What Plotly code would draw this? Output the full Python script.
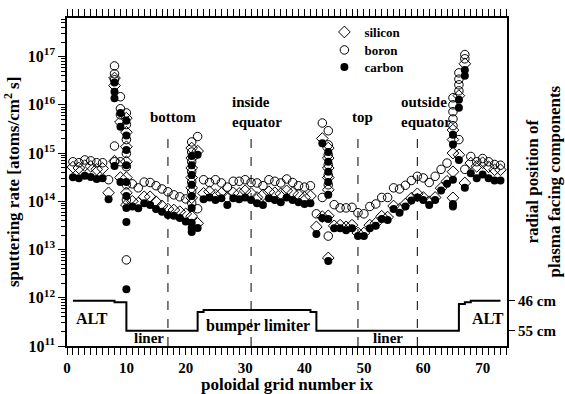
import plotly.graph_objects as go

# ---------------- data ----------------
boron_ix = [1, 2, 3, 4, 5, 6, 7,
            8, 8, 8, 8, 8,
            9, 9, 9, 9,
            10, 10, 10, 10, 10, 10, 10, 10,
            11, 12, 13, 14, 15, 16, 17, 18, 19, 20,
            21, 21, 21, 21, 21, 21, 21,
            22, 22,
            23, 24, 25, 26, 27, 28, 29, 30, 31, 32, 33, 34, 35, 36, 37, 38, 39, 40, 41,
            42,
            43, 43,
            44, 44, 44, 44, 44, 44, 44,
            45, 46, 47, 48, 49, 50, 51, 52, 53, 54, 55, 56, 57, 58, 59, 60, 61, 62, 63, 64,
            65, 65, 65, 65, 65,
            66, 66, 66, 66, 66,
            67, 67, 67,
            68, 69, 70, 71, 72, 73]
boron_rate = [6.6e14, 6.3e14, 7.2e14, 6.9e14, 6.3e14, 6.3e14, 2.8e14,
              6.4e16, 4.4e16, 3.3e16, 1.4e15, 6.6e14,
              1.47e16, 8.3e15, 6.2e15, 6.6e14,
              6.8e15, 3.9e15, 1.9e15, 9.8e14, 5.2e14, 2.2e14, 1.07e14, 6.1e12,
              2.3e14, 1.9e14, 2.5e14, 2.45e14, 2.1e14, 1.8e14, 1.57e14, 1.36e14, 1.24e14, 1.12e14,
              9.2e13, 1.7e15, 1.05e15, 6.6e14, 4.1e14, 2.5e14, 1.57e14,
              2.2e15, 7.0e13,
              2.8e14, 2.45e14, 2.8e14, 2.4e14, 1.97e14, 2.6e14, 2.6e14, 2.8e14, 2.45e14, 2.4e14,
              2.1e14, 2.8e14, 2.6e14, 2.4e14, 2.9e14, 2.45e14, 2.1e14, 1.97e14, 2.1e14,
              5.5e13,
              4.2e15, 1.2e14,
              2.9e15, 1.48e15, 9.2e14, 5.7e14, 3.5e14, 2.2e14, 1.9e13,
              8.5e13, 7.3e13, 7.3e13, 7.5e13, 5.8e13, 5.5e13, 7.8e13, 8.8e13, 1.2e14, 1.2e14,
              1.9e14, 1.8e14, 2.15e14, 2.7e14, 3.3e14, 3.05e14, 2.45e14, 3.3e14, 4.6e14, 6.2e14,
              1.4e16, 1.0e16, 7.2e15, 5.1e15, 3.7e15,
              4.6e16, 3.4e16, 2.6e16, 1.95e16, 1.9e15,
              1.1e17, 9.0e16, 4.6e14,
              8.5e14, 6.6e14, 7.7e14, 6.6e14, 5.8e14, 5.6e14]

silicon_ix = [1, 2, 3, 4, 5, 6, 7,
              8, 8, 8,
              9, 9,
              10, 10, 10, 10, 10, 10, 10,
              11, 12, 13, 14, 15, 16, 17, 18, 19, 20,
              21, 21, 21, 21, 21, 21, 21,
              22, 22,
              23, 24, 25, 26, 27, 28, 29, 30, 31, 32, 33, 34, 35, 36, 37, 38, 39, 40, 41,
              42,
              43, 43,
              44, 44, 44, 44, 44, 44, 44,
              45, 46, 47, 48, 49, 50, 51, 52, 53, 54, 55, 56, 57, 58, 59, 60, 61, 62, 63, 64,
              65, 65, 65, 65, 65,
              66, 66,
              67, 67,
              68, 69, 70, 71, 72, 73]
silicon_rate = [5.1e14, 4.9e14, 5.5e14, 5.3e14, 4.6e14, 4.8e14, 1.5e14,
                3.6e16, 2.5e16, 6.8e14,
                4.4e15, 3.1e14,
                5.3e15, 2.7e15, 1.35e15, 6.6e14, 3.1e14, 1.5e14, 8.4e13,
                1.0e14, 9.2e13, 1.24e14, 1.24e14, 9.8e13, 8.0e13, 6.9e13, 6.6e13, 6.1e13, 5.5e13,
                4.9e13, 1.27e15, 7.9e14, 4.9e14, 3.1e14, 1.9e14, 1.18e14,
                1.1e15, 3.5e13,
                1.46e14, 1.58e14, 1.36e14, 1.46e14, 1.2e14, 1.5e14, 1.46e14, 1.65e14, 1.46e14, 1.2e14,
                1.36e14, 1.58e14, 1.5e14, 1.43e14, 1.65e14, 1.5e14, 1.36e14, 1.2e14, 1.29e14,
                2.95e13,
                2.0e15, 4.8e13,
                1.27e15, 7.9e14, 4.9e14, 3.1e14, 1.73e14, 5.0e13, 6.7e12,
                3.1e13, 3.2e13, 2.95e13, 3.2e13, 2.2e13, 2.2e13, 3.2e13, 3.5e13, 4.9e13, 4.7e13,
                8.0e13, 6.9e13, 8.8e13, 1.16e14, 1.43e14, 1.2e14, 9.8e13, 1.2e14, 1.87e14, 2.6e14,
                3.0e15, 1.9e15, 1.0e15, 4.1e14, 1.18e14,
                1.55e16, 9.2e14,
                7.1e16, 2.4e14,
                6.2e14, 5.3e14, 6.3e14, 5.2e14, 4.5e14, 4.5e14]

carbon_ix = [1, 2, 3, 4, 5, 6, 7,
             8, 8, 8, 8,
             9, 9, 9,
             10, 10, 10, 10, 10, 10, 10, 10, 10,
             11, 12, 13, 14, 15, 16, 17, 18, 19, 20,
             21, 21, 21, 21, 21, 21, 21, 21, 21,
             22, 22,
             23, 24, 25, 26, 27, 28, 29, 30, 31, 32, 33, 34, 35, 36, 37, 38, 39, 40, 41,
             42,
             43, 43,
             44, 44, 44, 44, 44, 44, 44,
             45, 46, 47, 48, 49, 50, 51, 52, 53, 54, 55, 56, 57, 58, 59, 60, 61, 62, 63, 64,
             65, 65, 65, 65, 65,
             66, 66, 66,
             67, 67, 67,
             68, 69, 70, 71, 72, 73]
carbon_rate = [3.15e14, 3.0e14, 3.4e14, 3.2e14, 2.9e14, 3.0e14, 1.1e14,
               2.9e16, 1.86e16, 1.37e16, 5.4e14,
               6.8e15, 3.5e15, 2.5e14,
               4.7e15, 2.3e15, 1.16e15, 5.6e14, 2.5e14, 1.29e14, 7.3e13, 3.7e13, 1.5e12,
               7.8e13, 7.2e13, 9.1e13, 8.4e13, 6.9e13, 6.1e13, 5.2e13, 5.0e13, 4.5e13, 3.8e13,
               3.6e13, 8.7e14, 5.6e14, 3.5e14, 2.2e14, 1.29e14, 7.3e13, 2.8e13, 2.3e13,
               9.2e14, 2.8e13,
               1.1e14, 1.2e14, 1.07e14, 1.16e14, 8.4e13, 1.16e14, 1.1e14, 1.2e14, 1.07e14, 9.1e13,
               8.4e13, 1.16e14, 1.07e14, 9.5e13, 1.2e14, 1.07e14, 9.5e13, 8.8e13, 9.1e13,
               2.1e13,
               1.6e15, 4.5e13,
               1.05e15, 6.6e14, 4.1e14, 2.5e14, 1.36e14, 4.3e13, 5.8e12,
               2.75e13, 2.75e13, 2.5e13, 2.75e13, 1.9e13, 1.9e13, 2.75e13, 3.1e13, 4.3e13, 4.1e13,
               6.9e13, 5.8e13, 7.8e13, 1.04e14, 1.2e14, 1.07e14, 8.4e13, 1.07e14, 1.68e14, 2.3e14,
               2.4e15, 1.5e15, 2.8e14, 8.8e13, 7.8e13,
               1.27e16, 8.7e15, 7.2e14,
               5.3e16, 4.0e16, 1.9e14,
               3.8e14, 3.0e14, 3.6e14, 3.0e14, 2.7e14, 2.7e14]

# radial position of plasma facing components (step line, right axis)
radial_ix = [1, 8, 10, 22, 23, 41, 42, 66, 67, 68, 73]
radial_cm = [46.0, 46.5, 55.0, 49.4, 48.8, 49.4, 55.0, 47.0, 46.5, 46.0, 46.0]

# poloidal positions marked with dashed lines
marker_ix = [17, 31, 49, 59]

x_ticks = [0, 10, 20, 30, 40, 50, 60, 70]
y_decades = [11, 12, 13, 14, 15, 16, 17]
y_ticktext = ["10<sup>%d</sup>" % d for d in y_decades]
radial_ticks = [46, 55]
radial_ticktext = ["46 cm", "55 cm"]

# ---------------- figure ----------------
FONT = "Liberation Serif, Times New Roman, serif"
BOLD = dict(family=FONT, color="black", weight="bold")


def py(pix):
    return (346 - pix) / 328.0


def px(pix):
    return (pix - 67) / 440.0


fig = go.Figure()
fig.add_trace(go.Scatter(
    x=silicon_ix, y=silicon_rate, mode="markers", name="silicon", legend="legend",
    marker=dict(symbol="diamond-open", size=9, color="black", line=dict(width=1, color="black"))))
fig.add_trace(go.Scatter(
    x=boron_ix, y=boron_rate, mode="markers", name="boron", legend="legend2",
    marker=dict(symbol="circle-open", size=8.5, color="black", line=dict(width=1, color="black"))))
fig.add_trace(go.Scatter(
    x=carbon_ix, y=carbon_rate, mode="markers", name="carbon", legend="legend3",
    marker=dict(symbol="circle", size=8, color="black")))
fig.add_trace(go.Scatter(
    x=radial_ix, y=radial_cm, mode="lines", yaxis="y2", showlegend=False,
    line=dict(shape="hv", color="black", width=2)))

for xv in marker_ix:
    fig.add_shape(type="line", xref="x", yref="paper", x0=xv, x1=xv, y0=0, y1=0.64,
                  line=dict(color="black", width=1, dash="dash"))

minor_y = [m * 10 ** d for d in range(11, 18) for m in range(2, 10)]

legend_common = dict(x=0.585, xanchor="left", yanchor="middle", bgcolor="rgba(0,0,0,0)",
                     font=dict(size=13, **BOLD), itemwidth=30)

fig.update_layout(
    width=565, height=394,
    margin=dict(l=67, r=58, t=18, b=48, autoexpand=False),
    paper_bgcolor="white", plot_bgcolor="white",
    font=dict(family=FONT, color="black"),
    showlegend=True,
    legend=dict(y=py(32), **legend_common),
    legend2=dict(y=py(50), **legend_common),
    legend3=dict(y=py(67), **legend_common),
    xaxis=dict(range=[0, 74.1], tickmode="array", tickvals=x_ticks, automargin=False,
               ticks="outside", ticklen=7, tickwidth=1, tickcolor="black",
               showline=True, linecolor="black", linewidth=1.5, mirror="allticks",
               showgrid=False, zeroline=False,
               minor=dict(dtick=1, tick0=0, ticks="outside", ticklen=4, tickwidth=1,
                          tickcolor="black", showgrid=False),
               tickfont=dict(size=15, **BOLD),
               title=dict(text="poloidal grid number ix", font=dict(size=17, **BOLD), standoff=6)),
    yaxis=dict(type="log", range=[11, 17.8], tickmode="array", automargin=False,
               tickvals=[10 ** d for d in y_decades], ticktext=y_ticktext,
               ticks="outside", ticklen=7, tickwidth=1, tickcolor="black",
               showline=True, linecolor="black", linewidth=1.5, mirror=True,
               showgrid=False, zeroline=False,
               minor=dict(tickmode="array", tickvals=minor_y, ticks="outside", ticklen=4,
                          tickwidth=1, tickcolor="black", showgrid=False),
               tickfont=dict(size=16, **BOLD)),
    yaxis2=dict(overlaying="y", side="right", range=[59.6, -38.8], automargin=False,
                tickmode="array", tickvals=radial_ticks, ticktext=radial_ticktext,
                ticks="outside", ticklen=7, tickwidth=1, tickcolor="black",
                showline=False, showgrid=False, zeroline=False,
                tickfont=dict(size=15, **BOLD)),
)


def label(text, x, y, size=15, xanchor="center", align="center", angle=0, xref="x", yref="paper"):
    fig.add_annotation(text=text, x=x, y=y, xref=xref, yref=yref, showarrow=False,
                       xanchor=xanchor, yanchor="middle", align=align, textangle=angle,
                       font=dict(size=size, **BOLD))


label("bottom", 17.9, py(117))
label("inside<br>equator", 27.4, py(112), xanchor="left", align="left")
label("top", 49.7, py(117))
label("outside<br>equator", 55.9, py(112), xanchor="left", align="left")
label("ALT", 1.2, py(318), size=16, xanchor="left")
label("liner", 13.8, py(338))
label("bumper limiter", 32.1, py(326), size=16)
label("liner", 54.1, py(338))
label("ALT", 67.8, py(318), size=16, xanchor="left")

label("sputtering rate [atoms/cm<sup>2</sup> s]", px(12), 0.5, size=17, angle=-90, xref="paper")
label("radial position of<br>plasma facing components", px(542.5), py(182), size=17,
      angle=-90, align="center", xref="paper")

fig.write_html("out.html", config={"displayModeBar": False},
               post_script="document.body.style.margin='0';")
